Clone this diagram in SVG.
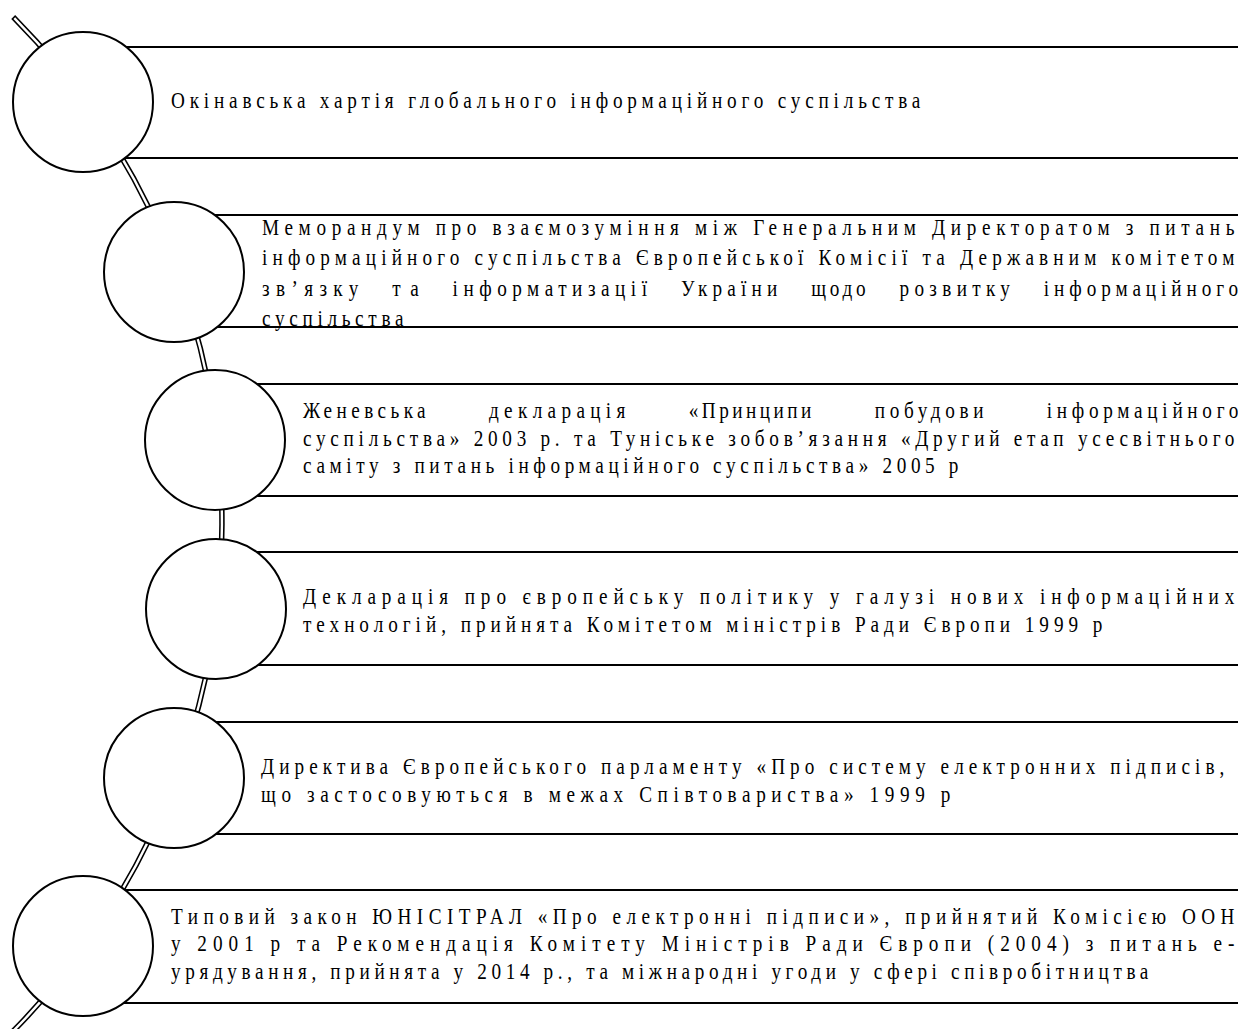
<svg xmlns="http://www.w3.org/2000/svg" width="1238" height="1029" viewBox="0 0 1238 1029">
<style>
.bg{fill:#fff}
.arcO{fill:none;stroke:#000;stroke-width:5.5}
.arcI{fill:none;stroke:#fff;stroke-width:2.4}
.box{fill:#fff;stroke:#000;stroke-width:2}
.cir{fill:#fff;stroke:#000;stroke-width:2}
.t{font-family:"Liberation Serif","Times New Roman",serif;font-size:24px;fill:#000;letter-spacing:2px}
</style>
<rect class="bg" x="0" y="0" width="1238" height="1029"/>
<g id="connectors">
<path class="arcO" d="M13.2,17 A720,720 0 0 1 13.2,1031"/>
<path class="arcI" d="M14.3,18.2 A720,720 0 0 1 13.2,1031"/>
</g>
<g id="node1">
<rect class="box" x="83" y="47" width="1170" height="111"/>
<circle class="cir" cx="83" cy="102" r="70"/>
<g transform="scale(0.8,1)">
<text class="t" x="213.75" y="108" textLength="938.75">Окінавська хартія глобального інформаційного суспільства</text>
</g>
</g>
<g id="node2">
<rect class="box" x="174" y="215" width="1080" height="112"/>
<circle class="cir" cx="174" cy="272" r="70"/>
<g transform="scale(0.8,1)">
<text class="t" x="327.5" y="235" textLength="1217.5">Меморандум про взаємозуміння між Генеральним Директоратом з питань</text>
<text class="t" x="327.5" y="265.5" textLength="1217.5">інформаційного суспільства Європейської Комісії та Державним комітетом</text>
<text class="t" x="327.5" y="296" textLength="122.5">зв’язку</text>
<text class="t" x="490.4" y="296" textLength="35">та</text>
<text class="t" x="565.75" y="296" textLength="245">інформатизації</text>
<text class="t" x="851.1" y="296" textLength="122.5">України</text>
<text class="t" x="1014" y="296" textLength="70">щодо</text>
<text class="t" x="1124.4" y="296" textLength="140">розвитку</text>
<text class="t" x="1304.75" y="296" textLength="245">інформаційного</text>
<text class="t" x="327.5" y="326.5" textLength="178.75">суспільства</text>
</g>
</g>
<g id="node3">
<rect class="box" x="215" y="384" width="1040" height="112"/>
<circle class="cir" cx="215" cy="440" r="70"/>
<g transform="scale(0.8,1)">
<text class="t" x="378.75" y="418.5" textLength="155.25">Женевська</text>
<text class="t" x="611.25" y="418.5" textLength="172.5">декларація</text>
<text class="t" x="860.9" y="418.5" textLength="155.25">«Принципи</text>
<text class="t" x="1093.4" y="418.5" textLength="138">побудови</text>
<text class="t" x="1308.5" y="418.5" textLength="241.5">інформаційного</text>
<text class="t" x="378.75" y="446" textLength="1166.25">суспільства» 2003 р. та Туніське зобов’язання «Другий етап усесвітнього</text>
<text class="t" x="378.75" y="473.5" textLength="821.25">саміту з питань інформаційного суспільства» 2005 р</text>
</g>
</g>
<g id="node4">
<rect class="box" x="216" y="552" width="1040" height="113"/>
<circle class="cir" cx="216" cy="609" r="70"/>
<g transform="scale(0.8,1)">
<text class="t" x="378.75" y="604" textLength="1166.25">Декларація про європейську політику у галузі нових інформаційних</text>
<text class="t" x="378.75" y="632.5" textLength="1001.25">технологій, прийнята Комітетом міністрів Ради Європи 1999 р</text>
</g>
</g>
<g id="node5">
<rect class="box" x="174" y="722" width="1080" height="112"/>
<circle class="cir" cx="174" cy="778" r="70"/>
<g transform="scale(0.8,1)">
<text class="t" x="326.25" y="774" textLength="1206.25">Директива Європейського парламенту «Про систему електронних підписів,</text>
<text class="t" x="326.25" y="802" textLength="863.75">що застосовуються в межах Співтовариства» 1999 р</text>
</g>
</g>
<g id="node6">
<rect class="box" x="83" y="890" width="1170" height="113"/>
<circle class="cir" cx="83" cy="946" r="70"/>
<g transform="scale(0.8,1)">
<text class="t" x="213.75" y="924" textLength="1331.25">Типовий закон ЮНІСІТРАЛ «Про електронні підписи», прийнятий Комісією ООН</text>
<text class="t" x="213.75" y="951.5" textLength="1331.25">у 2001 р та Рекомендація Комітету Міністрів Ради Європи (2004) з питань е-</text>
<text class="t" x="213.75" y="979" textLength="1223.75">урядування, прийнята у 2014 р., та міжнародні угоди у сфері співробітництва</text>
</g>
</g>
</svg>
